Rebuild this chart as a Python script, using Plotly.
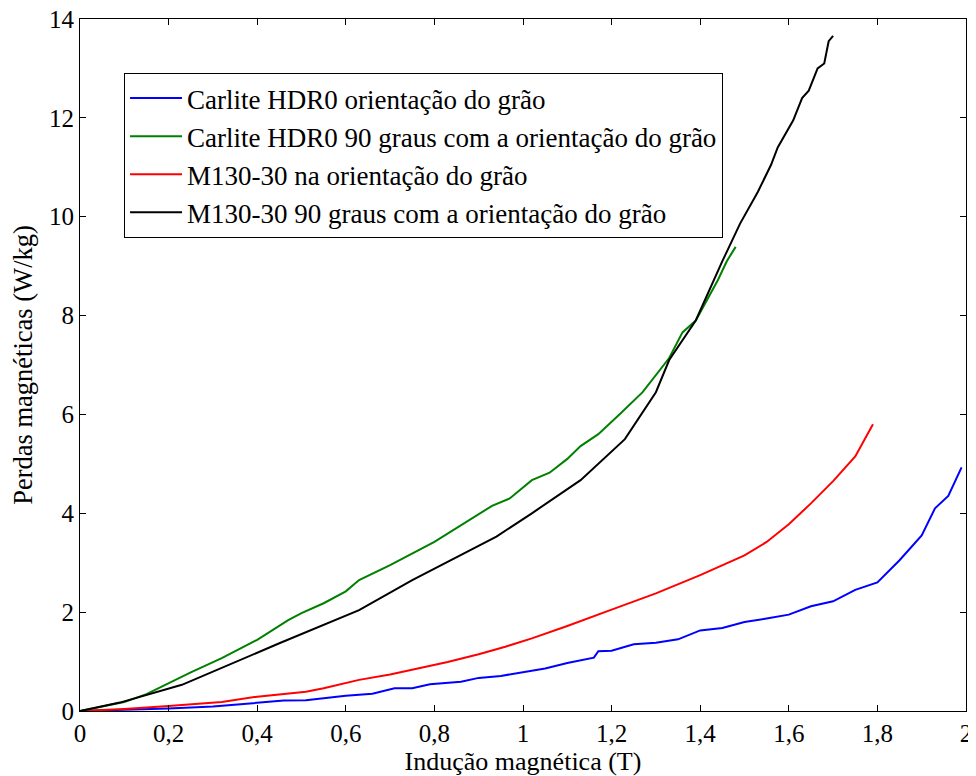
import plotly.graph_objects as go

# Carlite HDR0 orientação do grão
b_blue = [0, 0.1, 0.2, 0.3, 0.4, 0.46, 0.51, 0.55, 0.6, 0.66, 0.71, 0.75, 0.79, 0.86, 0.9, 0.95,
          1.0, 1.05, 1.1, 1.16, 1.17, 1.2, 1.25, 1.3, 1.35, 1.4, 1.45, 1.5, 1.55, 1.6, 1.65,
          1.7, 1.75, 1.8, 1.85, 1.9, 1.93, 1.96, 1.99]
p_blue = [0, 0.02, 0.05, 0.09, 0.16, 0.21, 0.22, 0.26, 0.31, 0.35, 0.46, 0.46, 0.54, 0.59, 0.67, 0.71,
          0.79, 0.86, 0.97, 1.08, 1.21, 1.22, 1.35, 1.38, 1.45, 1.63, 1.68, 1.8, 1.87, 1.95, 2.12,
          2.22, 2.45, 2.6, 3.05, 3.55, 4.1, 4.35, 4.93]

# Carlite HDR0 90 graus com a orientação do grão
b_green = [0, 0.1, 0.15, 0.2, 0.25, 0.32, 0.36, 0.4, 0.47, 0.5, 0.55, 0.6, 0.63, 0.7, 0.8, 0.89,
           0.93, 0.97, 1.02, 1.06, 1.1, 1.13, 1.17, 1.22, 1.27, 1.33, 1.36, 1.39, 1.44, 1.46, 1.48]
p_green = [0, 0.18, 0.34, 0.56, 0.78, 1.07, 1.26, 1.44, 1.84, 1.98, 2.18, 2.42, 2.65, 2.95, 3.42, 3.92,
           4.15, 4.3, 4.67, 4.82, 5.1, 5.36, 5.6, 6.02, 6.45, 7.14, 7.66, 7.9, 8.72, 9.1, 9.39]

# M130-30 na orientação do grão
b_red = [0, 0.1, 0.2, 0.32, 0.4, 0.51, 0.55, 0.63, 0.7, 0.83, 0.9, 0.96, 1.02, 1.1, 1.2, 1.3, 1.4,
         1.5, 1.55, 1.6, 1.65, 1.7, 1.75, 1.79]
p_red = [0, 0.04, 0.1, 0.18, 0.29, 0.39, 0.46, 0.63, 0.74, 0.99, 1.15, 1.3, 1.47, 1.72, 2.05, 2.38, 2.75,
         3.15, 3.42, 3.78, 4.2, 4.65, 5.15, 5.8]

# M130-30 90 graus com a orientação do grão
b_black = [0, 0.09, 0.23, 0.45, 0.63, 0.75, 0.94, 1.02, 1.13, 1.23, 1.3, 1.33, 1.39, 1.43,
           1.45, 1.49, 1.53, 1.56, 1.575, 1.61, 1.63, 1.645, 1.665, 1.68, 1.69, 1.70]
p_black = [0, 0.17, 0.53, 1.37, 2.04, 2.65, 3.53, 4.0, 4.67, 5.5, 6.45, 7.1, 7.9, 8.72,
           9.1, 9.86, 10.5, 11.05, 11.4, 11.95, 12.4, 12.55, 13.0, 13.1, 13.55, 13.66]

names = ['Carlite HDR0 orientação do grão',
         'Carlite HDR0 90 graus com a orientação do grão',
         'M130-30 na orientação do grão',
         'M130-30 90 graus com a orientação do grão']
colors = ['#0000ff', '#008000', '#ff0000', '#000000']
series = [(b_blue, p_blue), (b_green, p_green), (b_red, p_red), (b_black, p_black)]

x_ticks = [0, 0.2, 0.4, 0.6, 0.8, 1.0, 1.2, 1.4, 1.6, 1.8, 2.0]
x_labels = ['0', '0,2', '0,4', '0,6', '0,8', '1', '1,2', '1,4', '1,6', '1,8', '2']
y_ticks = [0, 2, 4, 6, 8, 10, 12, 14]

fig = go.Figure()
for (x, y), name, c in zip(series, names, colors):
    fig.add_trace(go.Scatter(x=x, y=y, mode='lines', name=name,
                             line=dict(color=c, width=2)))

# page has an 8px body margin, so the figure is 8px smaller and offset
font = 'Liberation Serif, Times New Roman, serif'
axis = dict(showgrid=False, zeroline=False, showline=True, linecolor='black', linewidth=1,
            mirror='ticks', ticks='inside', ticklen=6, tickcolor='black', automargin=False,
            ticklabeloverflow='allow',
            tickfont=dict(family=font, size=25, color='black'))

fig.update_layout(
    width=968, height=768,
    margin=dict(l=72, r=10, t=11, b=65),
    plot_bgcolor='white', paper_bgcolor='white',
    font=dict(family=font, size=26.5, color='black'),
    xaxis=dict(range=[0, 2], tickvals=x_ticks, ticktext=x_labels,
               title=dict(text='Indução magnética (T)', standoff=4,
                          font=dict(family=font, size=26)), **axis),
    yaxis=dict(range=[0, 14], tickvals=y_ticks,
               title=dict(text='Perdas magnéticas (W/kg)', standoff=9,
                          font=dict(family=font, size=26.5)), **axis),
    legend=dict(x=0.0497, y=0.922, xanchor='left', yanchor='top',
                bordercolor='black', borderwidth=1, bgcolor='white', itemwidth=52,
                font=dict(family=font, size=27, color='black')),
    showlegend=True,
)

fig.write_html("out.html")
